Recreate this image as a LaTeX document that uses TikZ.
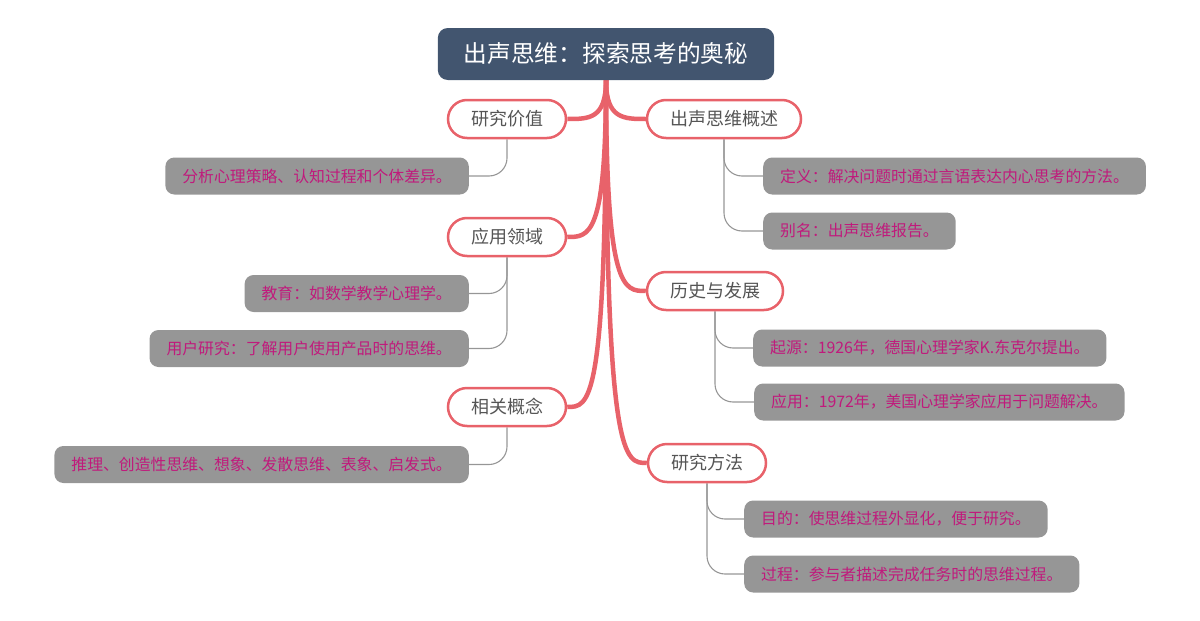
\documentclass[tikz,border=0pt]{standalone}
\usepackage{fontspec}
\setmainfont{Noto Sans CJK SC}
\usetikzlibrary{calc,backgrounds}
\definecolor{titlebg}{RGB}{66,85,111}
\definecolor{branch}{RGB}{232,98,106}
\definecolor{leafbg}{RGB}{150,150,150}
\definecolor{leaftxt}{RGB}{192,26,124}
\definecolor{maintxt}{RGB}{85,85,85}
\definecolor{twig}{RGB}{150,150,150}
\begin{document}
\begin{tikzpicture}[x=1pt,y=-1pt,
 titlebox/.style={fill=titlebg, text=white, rounded corners=10pt, minimum height=52pt, inner xsep=26pt, font=\fontsize{23.7}{26}\selectfont},
 topic/.style={draw=branch, line width=2.5pt, fill=white, text=maintxt, rounded corners=19pt, minimum height=38pt, inner xsep=23pt, font=\fontsize{18}{21}\selectfont},
 leaf/.style={fill=leafbg, text=leaftxt, rounded corners=9pt, minimum height=37pt, inner xsep=17pt, font=\fontsize{15.85}{18}\selectfont},
 bough/.style={draw=branch, line width=4.5pt},
 twigline/.style={draw=twig, line width=1.1pt, rounded corners=18pt}]
\useasboundingbox (0,0) rectangle (1200,621);
\node[titlebox] (t) at (606,54) {出声思维：探索思考的奥秘};
\node[topic] (a) at (507,119) {研究价值};
\node[topic] (b) at (724,119) {出声思维概述};
\node[topic] (c) at (507,237) {应用领域};
\node[topic] (d) at (715,291) {历史与发展};
\node[topic] (e) at (507,407) {相关概念};
\node[topic] (f) at (707,463) {研究方法};
\node[leaf, anchor=east] (a1) at (469,176) {分析心理策略、认知过程和个体差异。};
\node[leaf, anchor=west] (b1) at (763,176) {定义：解决问题时通过言语表达内心思考的方法。};
\node[leaf, anchor=west] (b2) at (763,231) {别名：出声思维报告。};
\node[leaf, anchor=east] (c1) at (469,293.5) {教育：如数学教学心理学。};
\node[leaf, anchor=east] (c2) at (469,348.5) {用户研究：了解用户使用产品时的思维。};
\node[leaf, anchor=west] (d1) at (753,348) {起源：1926年，德国心理学家K.东克尔提出。};
\node[leaf, anchor=west] (d2) at (754,402) {应用：1972年，美国心理学家应用于问题解决。};
\node[leaf, anchor=east] (e1) at (469,464.5) {推理、创造性思维、想象、发散思维、表象、启发式。};
\node[leaf, anchor=west] (f1) at (744,519) {目的：使思维过程外显化，便于研究。};
\node[leaf, anchor=west] (f2) at (744,574) {过程：参与者描述完成任务时的思维过程。};
\begin{scope}[on background layer]
\foreach \n in {a,c,e}
  \draw[bough] (t.south) .. controls (t.south |- \n.east) and ($(\n.east)+(22,0)$) .. (\n.east);
\foreach \n in {b,d,f}
  \draw[bough] (t.south) .. controls (t.south |- \n.west) and ($(\n.west)+(-22,0)$) .. (\n.west);
\draw[twigline] (a.south) |- (a1.east);
\draw[twigline] (b.south) |- (b1.west);
\draw[twigline] (b.south) |- (b2.west);
\draw[twigline] (c.south) |- (c1.east);
\draw[twigline] (c.south) |- (c2.east);
\draw[twigline] (d.south) |- (d1.west);
\draw[twigline] (d.south) |- (d2.west);
\draw[twigline] (e.south) |- (e1.east);
\draw[twigline] (f.south) |- (f1.west);
\draw[twigline] (f.south) |- (f2.west);
\end{scope}
\end{tikzpicture}
\end{document}
